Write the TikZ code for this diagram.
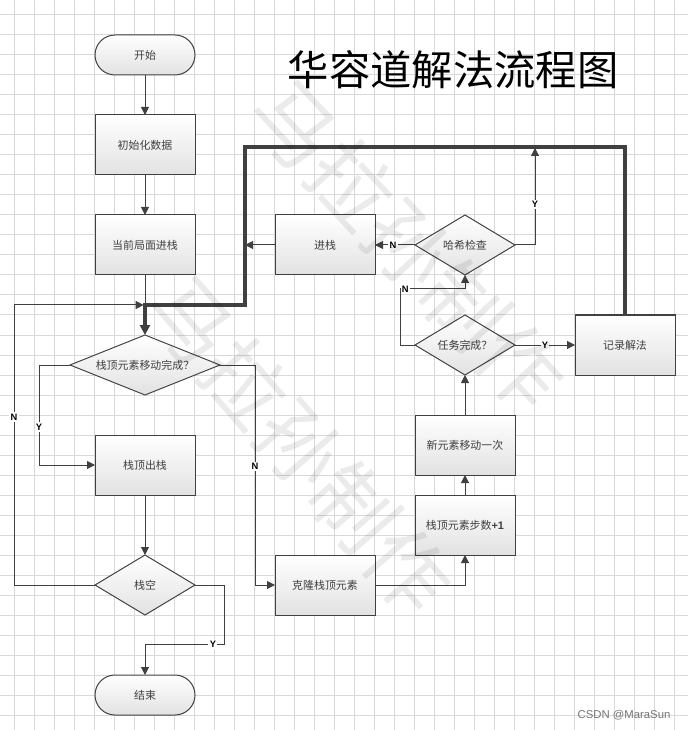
\documentclass[tikz,border=0pt]{standalone}
\usepackage{fontspec}
\usepackage{tikz}
\usetikzlibrary{arrows.meta,positioning,shapes.geometric}
\newfontfamily\cjk{Noto Sans CJK SC}
\newfontfamily\latinsans{Liberation Sans}
\definecolor{flowgrey}{HTML}{404040}
\definecolor{gridgrey}{HTML}{D9D9D9}
\definecolor{shadebot}{HTML}{E2E2E2}

\begin{document}
\begin{tikzpicture}[x=0.75pt, y=-0.75pt, node distance=30pt and 30pt,
  every node/.style={font=\cjk\fontsize{8.2}{10}\selectfont, text=flowgrey},
  blk/.style={draw=flowgrey, line width=0.75pt, top color=white, bottom color=shadebot, minimum width=75pt, minimum height=45pt, inner sep=2pt, outer sep=0pt},
  term/.style={blk, minimum height=30pt, rounded corners=15pt},
  dec/.style={blk, diamond, aspect=2.5, inner sep=0pt},
  lab/.style={font=\latinsans\bfseries\fontsize{7}{8}\selectfont, text=black, fill=white, inner sep=1pt},
  line/.style={flowgrey, line width=0.75pt},
  arr/.style={line, -{Triangle[length=6pt,width=6pt]}},
  arrthick/.style={flowgrey, line width=2.4pt, -{Triangle[length=7.5pt,width=7.5pt]}}]
\useasboundingbox (0,0) rectangle (688,730);
% background grid
\foreach \gx in {14,34,...,674} \draw[gridgrey, line width=0.75pt] (\gx,0) -- (\gx,730);
\foreach \gy in {15,35,...,715} \draw[gridgrey, line width=0.75pt] (0,\gy) -- (688,\gy);
\node[font=\cjk\fontsize{31}{36}\selectfont, text=black] (title) at (453,70) {华容道解法流程图};
% main column
\node[term] (start) at (145,55) {开始};
\node[blk, below=of start] (init) {初始化数据};
\node[blk, below=of init] (cur) {当前局面进栈};
\node[dec, minimum width=112.5pt, below=45pt of cur] (chk) {栈顶元素移动完成？};
\node[blk, below=of chk] (pop) {栈顶出栈};
\node[dec, below=45pt of pop] (empty) {栈空};
\node[term, below=45pt of empty] (stop) {结束};
% right part
\node[blk, right=60pt of cur] (push) {进栈};
\node[dec, right=of push] (hash) {哈希检查};
\node[dec, below=of hash] (done) {任务完成？};
\node[blk, right=45pt of done] (rec) {记录解法};
\node[blk, below=of done] (move) {新元素移动一次};
\node[blk, below=15pt of move] (incr) {栈顶元素步数{\latinsans\bfseries +1}};
\node[blk, right=60pt of empty] (clone) {克隆栈顶元素};
\coordinate (bus) at (245,147);
\coordinate (jn) at (245,305);
\coordinate (hashup) at (535,148);
\draw[arrthick] (rec.north) |- (bus) -- (jn) -| (chk.north);
\draw[line] (cur) -- (cur.south |- jn);
\draw[arr] (push) -- (push -| bus);
\draw[arr] (start) -- (init);
\draw[arr] (init) -- (cur);
\draw[arr] (chk.west) -- ++(-31,0) |- (pop.west) node[lab, pos=0.31] {Y};
\draw[arr] (chk.east) -- ++(35,0) |- (clone.west) node[lab, pos=0.23] {N};
\draw[arr] (pop) -- (empty);
\draw[arr, shorten >=1pt] (empty.west) -- ++(-81,0) |- (chk.north |- jn) node[lab, pos=0.3] {N};
\draw[arr] (empty.east) -- ++(29,0) -- ++(0,59) -| (stop.north) node[lab, pos=0.07] {Y};
\draw[arr] (clone.east) -| (incr.south);
\draw[arr] (incr) -- (move);
\draw[arr] (move) -- (done);
\draw[arr] (done) -- (rec) node[lab, midway] {Y};
\draw[arr] (done.west) -- ++(-15,0) -- ++(0,-56) -| (hash.south) node[lab, pos=0.04] {N};
\draw[arr] (hash) -- (push) node[lab, pos=0.55] {N};
\draw[arr] (hash.east) -| (hashup) node[lab, pos=0.71] {Y};
% watermark
\node[font=\cjk\fontsize{62}{62}\selectfont, text=black, text opacity=0.08, rotate=-47] (wm1) at (408,245) {马拉孙制作};
\node[font=\cjk\fontsize{62}{62}\selectfont, text=black, text opacity=0.08, rotate=-49] (wm2) at (300,445) {马拉孙制作};
\node[font=\latinsans\fontsize{8.5}{10}\selectfont, text=black!55] (csdn) at (624,715) {CSDN @MaraSun};
\end{tikzpicture}
\end{document}
